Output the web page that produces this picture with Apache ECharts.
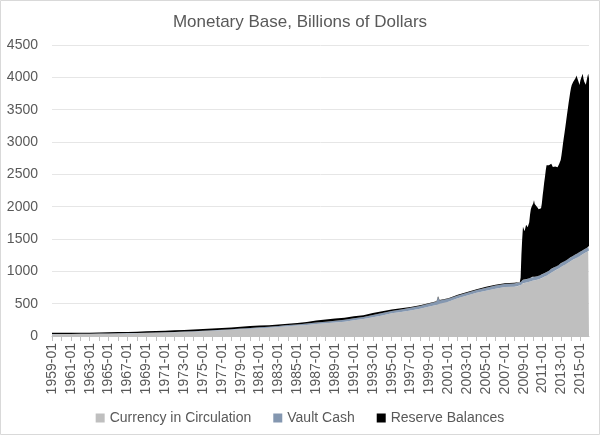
<!DOCTYPE html>
<html>
<head>
<meta charset="utf-8">
<script src="https://cdn.jsdelivr.net/npm/echarts@6/dist/echarts.min.js"></script>
<style>
	html, body { margin: 0; padding: 0; background: #fff; }
	#main { width: 600px; height: 435px; }
</style>
</head>
<body>
<div id="main"></div>
<script>
// months of the readings (yearly until 2008, then monthly)
var months = [
	"1959-01", "1960-01", "1961-01", "1962-01", "1963-01", "1964-01", "1965-01", "1966-01", "1967-01", "1968-01",
	"1969-01", "1970-01", "1971-01", "1972-01", "1973-01", "1974-01", "1975-01", "1976-01", "1977-01", "1978-01",
	"1979-01", "1980-01", "1981-01", "1982-01", "1983-01", "1984-01", "1985-01", "1986-01", "1987-01", "1988-01",
	"1989-01", "1990-01", "1991-01", "1992-01", "1993-01", "1994-01", "1995-01", "1996-01", "1997-01", "1998-01",
	"1999-01", "1999-10", "1999-12", "2000-02", "2001-01", "2002-01", "2003-01", "2004-01", "2005-01", "2006-01",
	"2007-01", "2008-01",
	"2008-08", "2008-09", "2008-10", "2008-11", "2008-12",
	"2009-01", "2009-02", "2009-03", "2009-04", "2009-05", "2009-06", "2009-07", "2009-08", "2009-09", "2009-10", "2009-11", "2009-12",
	"2010-01", "2010-02", "2010-03", "2010-04", "2010-05", "2010-06", "2010-07", "2010-08", "2010-09", "2010-10", "2010-11", "2010-12",
	"2011-01", "2011-02", "2011-03", "2011-04", "2011-05", "2011-06", "2011-07", "2011-08", "2011-09", "2011-10", "2011-11", "2011-12",
	"2012-01", "2012-02", "2012-03", "2012-04", "2012-05", "2012-06", "2012-07", "2012-08", "2012-09", "2012-10", "2012-11", "2012-12",
	"2013-01", "2013-02", "2013-03", "2013-04", "2013-05", "2013-06", "2013-07", "2013-08", "2013-09", "2013-10", "2013-11", "2013-12",
	"2014-01", "2014-02", "2014-03", "2014-04", "2014-05", "2014-06", "2014-07", "2014-08", "2014-09", "2014-10", "2014-11", "2014-12",
	"2015-01", "2015-02", "2015-03", "2015-04", "2015-05", "2015-06", "2015-07", "2015-08", "2015-09", "2015-10", "2015-11", "2015-12"
];

// billions of dollars
var currency = [
	28.5, 29.0, 29.3, 30.4, 32.0, 33.9, 36.0, 38.3, 40.3, 42.8,
	45.8, 48.6, 52.5, 56.3, 61.3, 67.0, 73.5, 80.0, 87.0, 95.0,
	104, 112, 120, 127, 139, 151, 161, 172, 185, 197,
	210, 222, 245, 262, 290, 318, 350, 372, 394, 423,
	458, 480, 520, 500, 530, 585, 627, 668, 701, 732,
	756, 762,
	778, 785, 796, 807, 815,
	816, 819, 822, 825, 828, 831, 834, 837, 841, 845, 849, 855,
	855, 858, 861, 864, 867, 871, 874, 877, 881, 886, 891, 897,
	901, 909, 915, 921, 927, 933, 939, 946, 953, 962, 971, 980,
	987, 995, 1002, 1008, 1014, 1020, 1026, 1033, 1039, 1047, 1055, 1063,
	1070, 1079, 1086, 1093, 1100, 1107, 1114, 1121, 1127, 1135, 1143, 1151,
	1158, 1167, 1174, 1181, 1188, 1195, 1202, 1209, 1215, 1222, 1229, 1234,
	1241, 1250, 1257, 1264, 1271, 1278, 1285, 1292, 1298, 1306, 1314, 1322
];

var vaultCash = [
	2.2, 2.3, 2.8, 3.1, 3.2, 3.4, 3.7, 4.0, 4.3, 4.6,
	4.9, 5.3, 5.7, 6.2, 6.8, 7.2, 7.9, 8.7, 9.4, 10.3,
	11.0, 12.3, 13.8, 15.0, 16.3, 17.5, 18.7, 20.0, 22.0, 23.5,
	25.5, 28.0, 30.5, 32.0, 35.0, 37.0, 38.5, 39.0, 41.0, 42.5,
	43.5, 50, 80, 50, 45, 43, 42, 44, 47, 49,
	50, 49,
	48, 50, 52, 53, 55,
	56, 55, 54, 54, 54, 54, 54, 55, 55, 55, 56, 60,
	55, 54, 54, 54, 54, 53, 53, 53, 53, 54, 55, 58,
	57, 55, 55, 55, 55, 55, 55, 55, 56, 56, 57, 60,
	58, 56, 56, 56, 56, 56, 56, 56, 57, 57, 58, 62,
	60, 58, 58, 58, 58, 58, 58, 58, 59, 59, 60, 64,
	62, 60, 60, 60, 60, 60, 60, 60, 61, 61, 62, 66,
	64, 62, 62, 62, 62, 62, 62, 62, 63, 63, 64, 68
];

var reserves = [
	18.0, 17.5, 16.8, 16.9, 16.8, 17.0, 17.5, 17.8, 18.5, 20.0,
	21.5, 23.0, 24.0, 26.0, 26.5, 27.5, 27.0, 26.5, 26.5, 28.0,
	29.5, 29.0, 27.0, 25.5, 22.0, 21.0, 22.0, 26.0, 34.0, 35.5,
	35.0, 34.0, 30.5, 26.5, 30.0, 27.0, 23.0, 19.0, 14.0, 9.0,
	7.0, 6, 14, 8, 9, 11, 11, 12, 13, 11,
	11, 11,
	10, 65, 402, 640, 820,
	828, 746, 764, 841, 858, 795, 772, 868, 984, 1060, 1095, 1115,
	1140, 1188, 1125, 1102, 1089, 1071, 1048, 1030, 1016, 1010, 1029, 1095,
	1212, 1306, 1400, 1484, 1578, 1652, 1666, 1669, 1631, 1597, 1612, 1625,
	1595, 1564, 1572, 1581, 1550, 1524, 1508, 1521, 1544, 1556, 1567, 1595,
	1670, 1753, 1836, 1919, 1992, 2075, 2158, 2241, 2324, 2406, 2477, 2545,
	2610, 2653, 2676, 2689, 2692, 2705, 2728, 2761, 2784, 2717, 2629, 2580,
	2645, 2678, 2701, 2729, 2647, 2590, 2553, 2531, 2589, 2641, 2677, 2595
];

var seriesNames = ["Currency in Circulation", "Vault Cash", "Reserve Balances"];
var seriesColors = ["#bfbfbf", "#8497b0", "#000000"];
var firstMonth = "1959-01";
var lastMonth = "2015-12";

// "YYYY-MM" -> timestamp of the first day of that month
function toTime(s) {
	var p = s.split("-");
	return new Date(parseInt(p[0], 10), parseInt(p[1], 10) - 1, 1).getTime();
}

function pairs(values) {
	var out = [];
	for (var i = 0; i < months.length; i++) {
		out.push([toTime(months[i]), values[i]]);
	}
	return out;
}

var font = "'Liberation Sans', Arial, sans-serif";
var textColor = "#595959";
var firstYear = parseInt(firstMonth, 10);

var myChart = echarts.init(document.getElementById('main'), null, { renderer: 'canvas' });

var allValues = [currency, vaultCash, reserves];
var series = [];
for (var k = 0; k < seriesNames.length; k++) {
	series.push({
		name : seriesNames[k],
		type : 'line',
		stack : 'base',
		symbol : 'none',
		lineStyle : { width : 0 },
		areaStyle : { color : seriesColors[k], opacity : 1 },
		itemStyle : { color : seriesColors[k] },
		emphasis : { disabled : true },
		data : pairs(allValues[k])
	});
}

var option = {
	animation : false,
	title : {
		text : 'Monetary Base, Billions of Dollars',
		left : 'center',
		top : 9,
		textStyle : { fontFamily : font, fontSize : 17, fontWeight : 'normal', color : textColor }
	},
	legend : {
		data : seriesNames,
		left : 'center',
		top : 406,
		icon : 'rect',
		itemWidth : 9,
		itemHeight : 9,
		itemGap : 22,
		textStyle : { fontFamily : font, fontSize : 14, color : textColor }
	},
	grid : { left : 52, right : 11, top : 45, bottom : 99 },
	xAxis : {
		type : 'time',
		min : toTime(firstMonth),
		max : toTime(lastMonth),
		splitNumber : 57,
		axisLine : { show : true, lineStyle : { color : '#bfbfbf' } },
		axisTick : { show : true, length : 5, lineStyle : { color : '#bfbfbf' } },
		splitLine : { show : false },
		axisLabel : {
			rotate : 90,
			margin : 7,
			fontFamily : font,
			fontSize : 14,
			color : textColor,
			hideOverlap : false,
			showMinLabel : true,
			showMaxLabel : false,
			formatter : function(v) {
				var d = new Date(v);
				if (d.getMonth() !== 0 || d.getDate() !== 1) return '';
				if ((d.getFullYear() - firstYear) % 2 !== 0) return '';
				return d.getFullYear() + '-01';
			}
		}
	},
	yAxis : {
		type : 'value',
		min : 0,
		max : 4500,
		interval : 500,
		axisLine : { show : false },
		axisTick : { show : false },
		splitLine : { lineStyle : { color : '#e6e6e6' } },
		axisLabel : {
			fontFamily : font, fontSize : 14, color : textColor, margin : 14,
			formatter : function(v) { return String(v); }
		}
	},
	graphic : [ {
		type : 'rect',
		shape : { x : 0.5, y : 0.5, width : 599, height : 434 },
		style : { fill : 'none', stroke : '#d9d9d9', lineWidth : 1 },
		silent : true
	} ],
	series : series
};

myChart.setOption(option);
</script>
</body>
</html>
